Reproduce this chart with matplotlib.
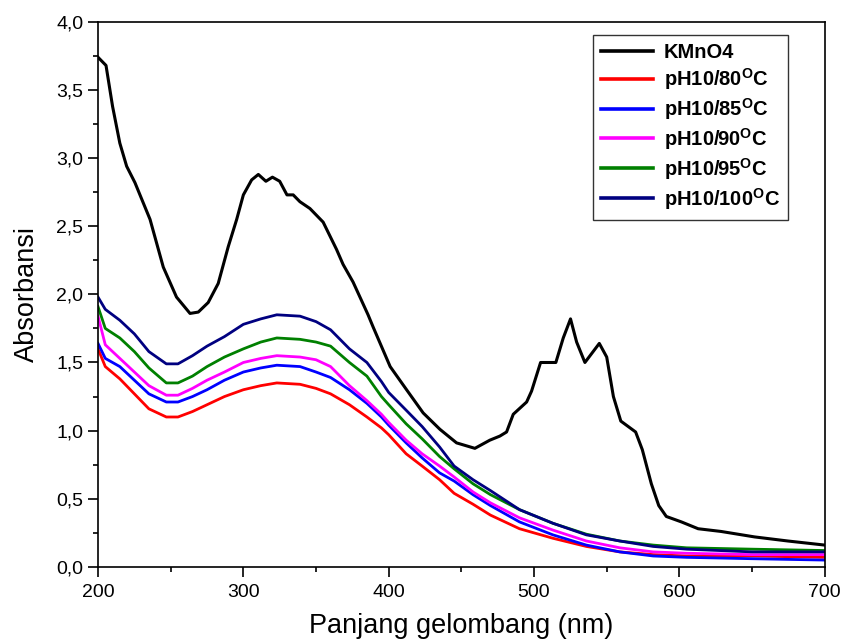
import matplotlib
matplotlib.use("Agg")
import matplotlib.pyplot as plt
from matplotlib.ticker import MultipleLocator, FuncFormatter

plt.rcParams['font.family'] = ['Liberation Sans', 'DejaVu Sans']
plt.rcParams['mathtext.fontset'] = 'custom'
plt.rcParams['mathtext.rm'] = 'Liberation Sans'
plt.rcParams['mathtext.bf'] = 'Liberation Sans:bold'

# KMnO4 spectrum
kmno4_wl = [200, 205.5, 210, 215, 219.7, 225.4, 235.8, 244.9, 254, 263.3, 269, 275.8,
            282.7, 289.6, 295.4, 300, 305.7, 310.3, 315.5, 320, 325, 330, 334.3, 338.9,
            345.8, 354.9, 364.1, 368.6, 375.5, 385.8, 389.3, 401, 412.3, 423.7, 435.2,
            446.7, 459.3, 469.6, 476.5, 481.1, 485.7, 494.9, 498.3, 504.5, 515, 520.1,
            525.1, 529.3, 535, 544.9, 550, 554.6, 559.7, 569.9, 574.5, 580.7, 585.8,
            591, 601.4, 612.9, 628.7, 651.7, 674.6, 700]
kmno4_abs = [3.74, 3.68, 3.38, 3.11, 2.94, 2.82, 2.55, 2.20, 1.98, 1.86, 1.87, 1.94,
             2.08, 2.35, 2.55, 2.73, 2.84, 2.88, 2.83, 2.86, 2.83, 2.73, 2.73, 2.68,
             2.63, 2.53, 2.33, 2.22, 2.09, 1.85, 1.76, 1.47, 1.30, 1.13, 1.01,
             0.91, 0.87, 0.93, 0.96, 0.99, 1.12, 1.21, 1.29, 1.50, 1.50, 1.68,
             1.82, 1.65, 1.50, 1.64, 1.54, 1.25, 1.07, 0.99, 0.86, 0.61, 0.45,
             0.37, 0.33, 0.28, 0.26, 0.22, 0.19, 0.16]

# Shared wavelength grid for the pH10 samples
wl = [200, 205, 215, 225, 235, 247, 255, 265, 275, 287, 300, 312, 323, 339, 350, 360,
      373, 385, 395, 400, 412, 423, 435, 445, 458, 470, 490, 513, 536, 559, 582, 605,
      650, 700]

abs_80 = [1.60, 1.47, 1.38, 1.27, 1.16, 1.10, 1.10, 1.14, 1.19, 1.25, 1.30, 1.33, 1.35,
          1.34, 1.31, 1.27, 1.19, 1.10, 1.02, 0.97, 0.83, 0.74, 0.64, 0.54, 0.46, 0.38,
          0.28, 0.21, 0.15, 0.11, 0.09, 0.08, 0.08, 0.07]
abs_85 = [1.64, 1.53, 1.47, 1.37, 1.27, 1.21, 1.21, 1.25, 1.30, 1.37, 1.43, 1.46, 1.48,
          1.47, 1.43, 1.39, 1.30, 1.20, 1.10, 1.04, 0.91, 0.80, 0.69, 0.63, 0.53, 0.45,
          0.33, 0.235, 0.16, 0.11, 0.08, 0.07, 0.06, 0.05]
abs_90 = [1.84, 1.63, 1.53, 1.43, 1.33, 1.26, 1.26, 1.31, 1.37, 1.43, 1.50, 1.53, 1.55,
          1.54, 1.52, 1.47, 1.33, 1.22, 1.12, 1.06, 0.93, 0.83, 0.74, 0.66, 0.55, 0.47,
          0.36, 0.27, 0.19, 0.14, 0.11, 0.10, 0.09, 0.09]
abs_95 = [1.91, 1.75, 1.68, 1.58, 1.46, 1.35, 1.35, 1.40, 1.47, 1.54, 1.60, 1.65, 1.68,
          1.67, 1.65, 1.62, 1.50, 1.40, 1.25, 1.19, 1.05, 0.94, 0.81, 0.72, 0.61, 0.53,
          0.42, 0.32, 0.24, 0.19, 0.16, 0.14, 0.13, 0.12]
abs_100 = [1.98, 1.89, 1.81, 1.71, 1.58, 1.49, 1.49, 1.55, 1.62, 1.69, 1.78, 1.82, 1.85,
           1.84, 1.80, 1.74, 1.60, 1.50, 1.36, 1.28, 1.15, 1.03, 0.88, 0.74, 0.64, 0.56,
           0.42, 0.32, 0.235, 0.19, 0.15, 0.13, 0.11, 0.11]

labels = ['KMnO4', r'pH10/80$^{\mathbf{O}}$C', r'pH10/85$^{\mathbf{O}}$C',
          r'pH10/90$^{\mathbf{O}}$C', r'pH10/95$^{\mathbf{O}}$C', r'pH10/100$^{\mathbf{O}}$C']
colors = ['#000000', '#ff0000', '#0000ff', '#ff00ff', '#008000', '#000080']

fig = plt.figure(figsize=(8.45, 6.42), dpi=100)
ax = fig.add_axes([0.116, 0.117, 0.86, 0.849])

ax.plot(kmno4_wl, kmno4_abs, color=colors[0], lw=2.2, label=labels[0])
for ys, c, lab in zip([abs_80, abs_85, abs_90, abs_95, abs_100], colors[1:], labels[1:]):
    ax.plot(wl, ys, color=c, lw=2.0, label=lab)

ax.set_xlim(200, 700)
ax.set_ylim(0, 4.0)
ax.xaxis.set_major_locator(MultipleLocator(100))
ax.xaxis.set_minor_locator(MultipleLocator(50))
ax.yaxis.set_major_locator(MultipleLocator(0.5))
ax.yaxis.set_minor_locator(MultipleLocator(0.25))
ax.yaxis.set_major_formatter(FuncFormatter(lambda v, p: f"{v:.1f}".replace('.', ',')))
ax.tick_params(which='major', direction='out', length=7, width=1.2, labelsize=14, pad=3.5)
ax.tick_params(axis='x', which='major', pad=5)
ax.tick_params(which='minor', direction='out', length=3.5, width=1.2)
ax.tick_params(top=False, right=False)
for s in ax.spines.values():
    s.set_linewidth(1.2)

ax.set_xlabel('Panjang gelombang (nm)', fontsize=19.5, labelpad=9)
ax.set_ylabel('Absorbansi', fontsize=19.5, labelpad=12)

leg = ax.legend(loc='upper right', bbox_to_anchor=(0.949, 0.976),
                prop={'weight': 'bold', 'size': 14.5}, frameon=True, fancybox=False,
                edgecolor='black', handlelength=2.6, handletextpad=0.5,
                labelspacing=0.2, borderpad=0.4, borderaxespad=0.0)
leg.get_frame().set_linewidth(1.0)
for line in leg.get_lines():
    line.set_linewidth(2.6)

fig.savefig('out.png', dpi=100)
